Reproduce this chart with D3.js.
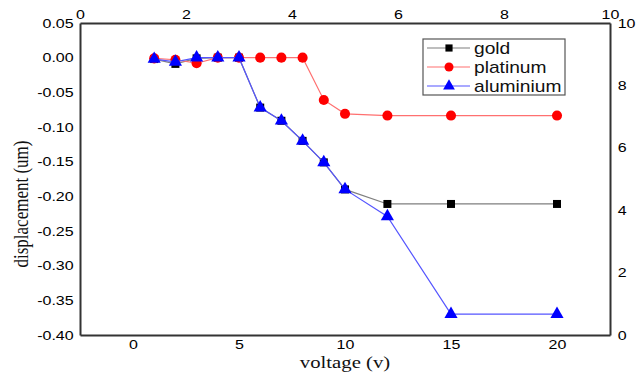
<!DOCTYPE html>
<html>
<head>
<meta charset="utf-8">
<script src="https://cdn.jsdelivr.net/npm/d3@7"></script>
<style>
  body { margin: 0; background: #fff; }
  .axis text { font-family: "Liberation Sans", Arial, sans-serif; font-size: 12.5px; fill: #000; }
  .axis-title { font-family: "Liberation Serif", "Times New Roman", serif; font-size: 17px; fill: #111; }
  .legend text { font-family: "Liberation Sans", Arial, sans-serif; font-size: 16px; fill: #111; }
</style>
</head>
<body>
<svg></svg>
<script>
const width = 644;
const height = 373;

// data
var voltage = [1, 2, 3, 4, 5, 6, 7, 8, 9, 10, 12, 15, 20];
var gold = [-0.002, -0.009, -0.001, 0, 0, -0.072, -0.091, -0.120, -0.151, -0.190, -0.211, -0.211, -0.211];
var platinum = [-0.001, -0.003, -0.008, 0, 0, 0, 0, 0, -0.061, -0.081, -0.0835, -0.0835, -0.0835];
var aluminium = [-0.002, -0.006, 0, 0, 0, -0.072, -0.091, -0.120, -0.151, -0.190, -0.229, -0.370, -0.370];
var seriesNames = ["gold", "platinum", "aluminium"];
var bottomTicks = [0, 5, 10, 15, 20];
var leftTicks = [0.05, 0.00, -0.05, -0.10, -0.15, -0.20, -0.25, -0.30, -0.35, -0.40];
var topTicks = [0, 2, 4, 6, 8, 10];
var rightTicks = [0, 2, 4, 6, 8, 10];

var pLeft = 80, pRight = 610, pTop = 23, pBottom = 335;
var stretch = 1.28; // the original picture is widened sideways

var xScale = d3.scaleLinear().domain([-2.5, 22.5]).range([pLeft, pRight]);
var yScale = d3.scaleLinear().domain([-0.40, 0.05]).range([pBottom, pTop]);
var x2Scale = d3.scaleLinear().domain([0, 10]).range([pLeft, pRight]);
var y2Scale = d3.scaleLinear().domain([0, 10]).range([pBottom, pTop]);

var svg = d3.select("svg");
svg.attr("width", width);
svg.attr("height", height);

function styleAxis(g) {
    g.attr("class", "axis").attr("font-size", null).attr("font-family", null);
    g.select(".domain").attr("stroke", "#333").attr("stroke-width", 2);
    g.selectAll(".tick line").remove();
    g.selectAll(".tick text").attr("transform", `scale(${stretch},1)`);
}

svg.append("g")
    .attr("transform", `translate(0,${pBottom})`)
    .call(d3.axisBottom(xScale).tickValues(bottomTicks).tickSize(0).tickSizeOuter(0).tickPadding(5))
    .call(styleAxis);

svg.append("g")
    .attr("transform", `translate(${pLeft},0)`)
    .call(d3.axisLeft(yScale).tickValues(leftTicks).tickFormat((d) => d.toFixed(2)).tickSize(0).tickSizeOuter(0).tickPadding(5))
    .call(styleAxis);

svg.append("g")
    .attr("transform", `translate(0,${pTop})`)
    .call(d3.axisTop(x2Scale).tickValues(topTicks).tickSize(0).tickSizeOuter(0).tickPadding(4))
    .call(styleAxis);

svg.append("g")
    .attr("transform", `translate(${pRight},0)`)
    .call(d3.axisRight(y2Scale).tickValues(rightTicks).tickSize(0).tickSizeOuter(0).tickPadding(6))
    .call(styleAxis);

svg.append("text")
    .attr("class", "axis-title")
    .attr("transform", `translate(${xScale(10)},368) scale(1.22,1)`)
    .attr("text-anchor", "middle")
    .text("voltage (v)");

svg.append("text")
    .attr("class", "axis-title")
    .attr("transform", `translate(28,204) scale(${stretch},1) rotate(-90)`)
    .attr("text-anchor", "middle")
    .text("displacement (um)");

var series = [
    { name: "gold", values: gold, line: "#7f7f7f", fill: "#000", shape: d3.symbolSquare, size: 64 },
    { name: "platinum", values: platinum, line: "#ff7070", fill: "#ff0000", shape: d3.symbolCircle, size: 80 },
    { name: "aluminium", values: aluminium, line: "#5555ff", fill: "#0000ff", shape: d3.symbolTriangle, size: 75 }
];

var lineGenerator = d3.line()
    .x((d) => xScale(d[0]))
    .y((d) => yScale(d[1]));

series.forEach(function(s) {
    var pts = voltage.map((v, i) => [v, s.values[i]]);
    var g = svg.append("g").attr("class", s.name);
    g.append("path")
        .attr("d", lineGenerator(pts))
        .attr("fill", "none")
        .attr("stroke", s.line)
        .attr("stroke-width", 1.2);
    g.selectAll("path.pt")
        .data(pts)
        .enter()
        .append("path")
        .attr("class", "pt")
        .attr("transform", (d) => `translate(${xScale(d[0])},${yScale(d[1])})`)
        .attr("d", d3.symbol().type(s.shape).size(s.size))
        .attr("fill", s.fill);
});

// legend
var legend = svg.append("g").attr("class", "legend").attr("transform", "translate(423,39)");
legend.append("rect")
    .attr("width", 142).attr("height", 56)
    .attr("fill", "#fff").attr("stroke", "#555").attr("stroke-width", 1.2);

var entries = legend.selectAll("g.entry")
    .data(series)
    .enter()
    .append("g")
    .attr("class", "entry")
    .attr("transform", (d, i) => `translate(0,${9 + i * 19})`);

entries.append("line")
    .attr("x1", 4).attr("x2", 47)
    .attr("stroke", (d) => d.line).attr("stroke-width", 1.2);
entries.append("path")
    .attr("transform", "translate(26,0)")
    .attr("d", (d) => d3.symbol().type(d.shape).size(d.size * 0.8)())
    .attr("fill", (d) => d.fill);
entries.append("text")
    .attr("transform", "translate(51,6) scale(1.2,1)")
    .text((d) => d.name);
</script>
</body>
</html>
